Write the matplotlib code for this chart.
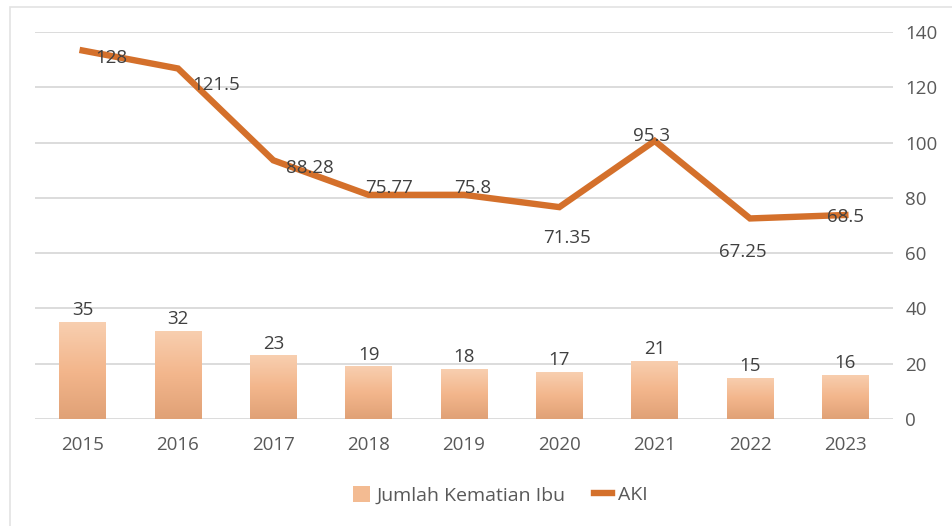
import matplotlib
matplotlib.use("Agg")
import matplotlib.pyplot as plt
import numpy as np
from matplotlib.colors import LinearSegmentedColormap
from matplotlib.patches import Rectangle, Patch
from matplotlib.lines import Line2D

# ---- data ----
years = ["2015", "2016", "2017", "2018", "2019", "2020", "2021", "2022", "2023"]
jumlah_kematian = [35, 32, 23, 19, 18, 17, 21, 15, 16]
aki = [128, 121.5, 88.28, 75.77, 75.8, 71.35, 95.3, 67.25, 68.5]
aki_labels = ["128", "121.5", "88.28", "75.77", "75.8", "71.35", "95.3", "67.25", "68.5"]
y_ticks = [0, 20, 40, 60, 80, 100, 120, 140]

# ---- style / layout ----
label_offsets_px = [(29, -7), (38, -17), (37, -8), (20, 7), (9, 7),
                    (8, -31), (-3, 5), (-7, -34), (0, -2)]
FONT = ["Open Sans", "DejaVu Sans"]
TXT = "#595959"
LBL = "#404040"
LINE_C = "#d4702b"
GRID_C = "#d9d9d9"
FS = 13.5

plt.rcParams["font.family"] = FONT

W, H = 953, 526
fig = plt.figure(figsize=(W / 100, H / 100), dpi=100)
fig.patches.append(Rectangle((10 / W, -0.1), 1.2, 1 - 7 / H + 0.1, transform=fig.transFigure,
                             fill=False, edgecolor="#e3e3e3", linewidth=1.2))

L, R, T, B = 35, 893, 32, 419
ax = fig.add_axes([L / W, 1 - B / H, (R - L) / W, (B - T) / H])
ax2 = ax.twinx()
x = np.arange(len(years))

ax.set_xlim(-0.5, len(years) - 0.5)
ax.set_ylim(0, 140)
ax.set_yticks(y_ticks)
ax.set_xticks(x)
ax.set_xticklabels(years)
ax.tick_params(axis="both", length=0, labelsize=FS, labelcolor=TXT)
ax.tick_params(axis="y", left=False, labelleft=False, right=False, labelright=True, pad=9)
ax.tick_params(axis="x", pad=12)
for s in ax.spines.values():
    s.set_visible(False)
ax.grid(axis="y", color=GRID_C, linewidth=1.3)
ax.set_axisbelow(True)

# gradient bars
cmap = LinearSegmentedColormap.from_list("peach", ["#e0a176", "#f3b68c", "#f8cfb0"])
grad = np.linspace(0, 1, 256).reshape(-1, 1)
bars = ax.bar(x, jumlah_kematian, width=0.49, color="none", edgecolor="none", zorder=2)
for b in bars:
    bx, by, bw, bh = b.get_x(), b.get_y(), b.get_width(), b.get_height()
    im = ax.imshow(grad, cmap=cmap, origin="lower", aspect="auto",
                   extent=[bx, bx + bw, by, by + bh], zorder=2)
    im.set_clip_path(b)
ax.set_xlim(-0.5, len(years) - 0.5)
ax.set_ylim(0, 140)

for xi, v in zip(x, jumlah_kematian):
    ax.annotate(str(v), (xi, v), xytext=(0, 2), textcoords="offset points",
                ha="center", va="bottom", fontsize=FS, color=LBL, zorder=5)

# line on hidden secondary axis
ax2.set_ylim(-5.3, 134.7)
ax2.set_yticks([])
ax2.tick_params(axis="y", left=False, right=False, labelleft=False, labelright=False)
for s in ax2.spines.values():
    s.set_visible(False)
ax2.plot(x, aki, color=LINE_C, linewidth=4.6, solid_joinstyle="miter", zorder=3)
for xi, v, lab, (dx, dy) in zip(x, aki, aki_labels, label_offsets_px):
    ax2.annotate(lab, (xi, v), xytext=(dx, dy), textcoords="offset pixels",
                 ha="center", va="center", fontsize=FS, color=LBL, zorder=5)

handles = [Patch(facecolor="#f3bb92", edgecolor="none", label="Jumlah Kematian Ibu"),
           Line2D([0], [0], color=LINE_C, linewidth=4.6, label="AKI")]
leg = fig.legend(handles=handles, loc="center", bbox_to_anchor=(500 / W, 1 - 495 / H),
                 ncol=2, frameon=False, fontsize=14, handlelength=0.9, handleheight=0.9,
                 handletextpad=0.3, columnspacing=1.5)
for t in leg.get_texts():
    t.set_color(TXT)

fig.savefig("out.png", dpi=100)
